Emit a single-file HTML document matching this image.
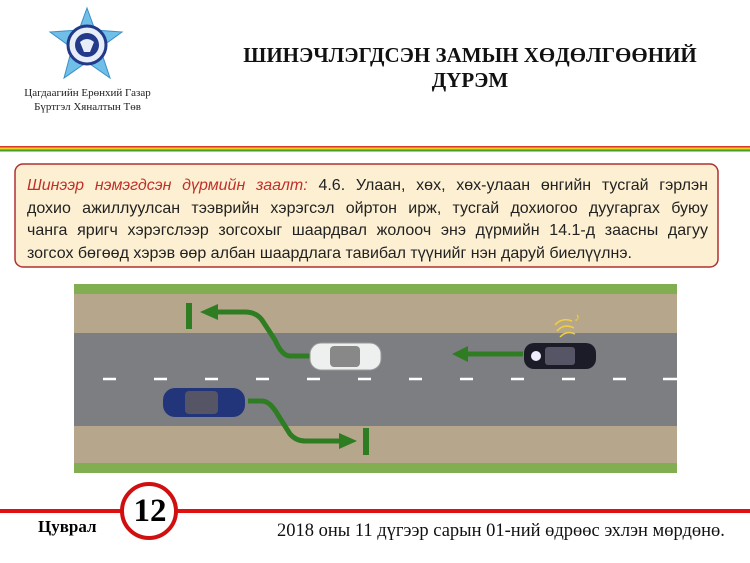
<!DOCTYPE html>
<html><head><meta charset="utf-8"><style>
body{margin:0;width:750px;height:563px;background:#fff;position:relative;overflow:hidden;font-family:"Liberation Serif",serif}
.abs{position:absolute}
.j{text-align:justify;text-align-last:justify;white-space:nowrap}
</style></head><body>
<svg class="abs" style="left:0;top:0" width="750" height="563">
 <polygon points="87,8 95,30 122,32 100,48 110,78 87,62 64,78 72,48 50,32 79,30" fill="#6fbfe8" stroke="#3a8fc8" stroke-width="1"/>
 <circle cx="87" cy="45" r="19" fill="#e8eef8" stroke="#233a8a" stroke-width="3"/>
 <circle cx="87" cy="45" r="12" fill="#233a8a"/>
 <path d="M80,42 Q87,36 94,42 L90,52 L84,52Z" fill="#e8eef8"/>
 <rect x="0" y="146" width="750" height="1.5" fill="#d83a2a"/>
 <rect x="0" y="147.5" width="750" height="2" fill="#e8d020"/>
 <rect x="0" y="149.5" width="750" height="2" fill="#4a9a2a"/>
 <rect x="15" y="164" width="703" height="103" rx="8" fill="#fdf0d2" stroke="#b03030" stroke-width="1.5"/>
 <rect x="74" y="284" width="603" height="189" fill="#b5a68c"/>
 <rect x="74" y="284" width="603" height="10" fill="#80ae50"/>
 <rect x="74" y="463" width="603" height="10" fill="#80ae50"/>
 <rect x="74" y="333" width="603" height="93" fill="#7d7e82"/>
 <g stroke="#fff" stroke-width="2.5">
  <line x1="103" y1="379" x2="116" y2="379"/><line x1="154" y1="379" x2="167" y2="379"/><line x1="205" y1="379" x2="218" y2="379"/><line x1="256" y1="379" x2="269" y2="379"/><line x1="307" y1="379" x2="320" y2="379"/><line x1="358" y1="379" x2="371" y2="379"/><line x1="409" y1="379" x2="422" y2="379"/><line x1="460" y1="379" x2="473" y2="379"/><line x1="511" y1="379" x2="524" y2="379"/><line x1="562" y1="379" x2="575" y2="379"/><line x1="613" y1="379" x2="626" y2="379"/><line x1="663" y1="379" x2="677" y2="379"/>
 </g>
 <g fill="none" stroke="#2e7d22" stroke-width="5">
  <path d="M310,356 L290,356 Q282,356 275,340 L262,320 Q256,312 245,312 L215,312"/>
  <path d="M523,354 L468,354"/>
  <path d="M248,401 L262,401 Q270,401 278,415 L290,434 Q296,441 305,441 L342,441"/>
 </g>
 <g fill="#2e7d22">
  <polygon points="200,312 218,304 218,320"/>
  <polygon points="452,354 468,346 468,362"/>
  <polygon points="357,441 339,433 339,449"/>
  <rect x="186" y="303" width="6" height="26"/>
  <rect x="363" y="428" width="6" height="27"/>
 </g>
 <rect x="310" y="343" width="71" height="27" rx="11" fill="#eef0f0" stroke="#999"/>
 <rect x="330" y="346" width="30" height="21" rx="4" fill="#888"/>
 <rect x="163" y="388" width="82" height="29" rx="12" fill="#22357a"/>
 <rect x="185" y="391" width="33" height="23" rx="4" fill="#556"/>
 <rect x="524" y="343" width="72" height="26" rx="10" fill="#1c1c28"/>
 <rect x="545" y="347" width="30" height="18" rx="3" fill="#556"/>
 <circle cx="536" cy="356" r="5" fill="#eef"/>
 <g fill="none" stroke="#f0d040" stroke-width="1.5"><path d="M555,325 Q562,317 572,321"/><path d="M557,331 Q564,323 574,328"/><path d="M560,337 Q567,330 575,334"/></g>
 <text x="574" y="321" fill="#f0d040" font-size="12">♪</text>
 <rect x="0" y="509" width="750" height="4" fill="#e01010"/>
 <circle cx="149" cy="511" r="27" fill="#fff" stroke="#d01010" stroke-width="4"/>
</svg>
<div class="abs" style="left:0;top:86px;width:175px;text-align:center;font-size:11px;line-height:14px;color:#222">Цагдаагийн Ерөнхий Газар<br>Бүртгэл Хяналтын Төв</div>
<div class="abs" style="left:200px;top:43px;width:540px;text-align:center;font-size:21px;font-weight:bold;line-height:25px;color:#111">ШИНЭЧЛЭГДСЭН ЗАМЫН ХӨДӨЛГӨӨНИЙ<br>ДҮРЭМ</div>
<div class="abs" style="left:27px;top:175px;width:681px;font-family:'Liberation Sans',sans-serif;font-size:16px;line-height:22.5px;color:#222">
<div class="j"><i style="color:#c0302a">Шинээр нэмэгдсэн дүрмийн заалт:</i> 4.6. Улаан, хөх, хөх-улаан өнгийн тусгай гэрлэн</div>
<div class="j">дохио ажиллуулсан тээврийн хэрэгсэл ойртон ирж, тусгай дохиогоо дуугаргах буюу</div>
<div class="j">чанга яригч хэрэгслээр зогсохыг шаардвал жолооч энэ дүрмийн 14.1-д заасны дагуу</div>
<div style="white-space:nowrap">зогсох бөгөөд хэрэв өөр албан шаардлага тавибал түүнийг нэн даруй биелүүлнэ.</div>
</div>
<div class="abs" style="left:125px;top:492px;width:50px;text-align:center;font-size:33px;font-weight:bold;line-height:38px">12</div>
<div class="abs" style="left:38px;top:517px;font-size:17px;font-weight:bold">Цуврал</div>
<div class="abs" style="left:277px;top:521px;font-size:18.5px;color:#111;white-space:nowrap">2018 оны 11 дүгээр сарын 01-ний өдрөөс эхлэн мөрдөнө.</div>
</body></html>
